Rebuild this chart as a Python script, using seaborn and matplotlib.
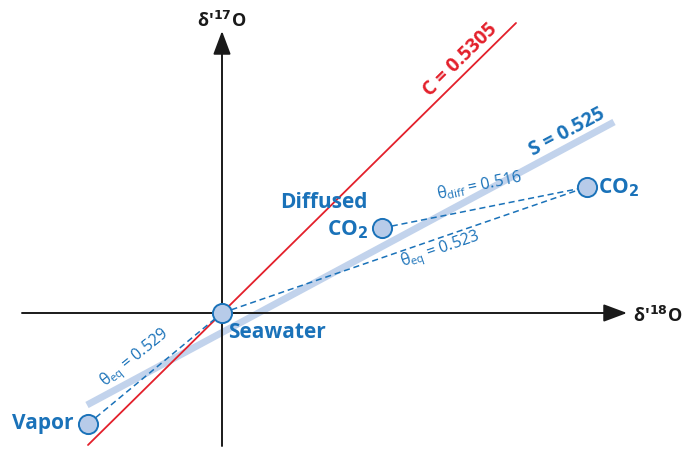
import matplotlib
matplotlib.use("Agg")
import matplotlib.pyplot as plt
import seaborn as sns
import pandas as pd

# ---- data (schematic units, origin = seawater) ----
point_names = ["Seawater", "Vapor", "Diffused CO2", "CO2"]
point_x = [0, -134, 160, 365]
point_y = [0, -111, 85, 126]

c_line_x = [-134, 294]
c_line_y = [-132, 290]
s_line_x = [-135, 392]
s_line_y = [-92, 191]

eq_vapor_x = [-134, 0]
eq_vapor_y = [-111, 0]
eq_co2_x = [0, 365]
eq_co2_y = [0, 126]
diff_x = [160, 365]
diff_y = [85, 126]

BLUE = "#1a72b9"
LIGHT = "#c2d3ec"
FILL = "#b7cbe9"
RED = "#e3202b"

sns.set_theme(style="white")
plt.rcParams['font.family'] = ['Open Sans', 'DejaVu Sans']

fig = plt.figure(figsize=(6.83, 4.5), dpi=100)
ax = fig.add_axes([0, 0, 1, 1])
ax.set_xlim(-222, 461)
ax.set_ylim(-137, 313)
ax.axis("off")

# axes arrows
ax.annotate("", xy=(405, 0), xytext=(-200, 0),
            arrowprops=dict(arrowstyle="-|>,head_length=1.2,head_width=0.45", color="#1a1a1a", lw=1.4, shrinkA=0, shrinkB=0))
ax.annotate("", xy=(0, 282), xytext=(0, -133),
            arrowprops=dict(arrowstyle="-|>,head_length=1.2,head_width=0.45", color="#1a1a1a", lw=1.4, shrinkA=0, shrinkB=0))

# S line (thick light blue)
sns.lineplot(x=s_line_x, y=s_line_y, ax=ax, color=LIGHT, lw=5.0, solid_capstyle="butt", zorder=2)
# C line (red)
sns.lineplot(x=c_line_x, y=c_line_y, ax=ax, color=RED, lw=1.3, zorder=3)
# dashed lines
for xs, ys in [(eq_vapor_x, eq_vapor_y), (eq_co2_x, eq_co2_y), (diff_x, diff_y)]:
    sns.lineplot(x=xs, y=ys, ax=ax, color=BLUE, lw=1.1, linestyle=(0, (4, 2.5)), zorder=3)

# points
df = pd.DataFrame({"name": point_names, "x": point_x, "y": point_y})
sns.scatterplot(data=df, x="x", y="y", ax=ax, s=190, color=FILL, edgecolor=BLUE, linewidth=1.4, zorder=5, legend=False)

ax.set_xlim(-222, 461)
ax.set_ylim(-137, 313)

# axis labels
ax.text(0, 292, "δ′$^{\\mathbf{17}}$O", fontsize=13, fontweight="bold", color="#1a1a1a", ha="center", va="center")
ax.text(411, -3, "δ′$^{\\mathbf{18}}$O", fontsize=13, fontweight="bold", color="#1a1a1a", ha="left", va="center")

# line labels
ax.text(238, 253, "C = 0.5305", fontsize=14, fontweight="bold", color=RED, rotation=44.6,
        ha="center", va="center", rotation_mode="anchor")
ax.text(345, 181, "S = 0.525", fontsize=14, fontweight="bold", color=BLUE, rotation=28,
        ha="center", va="center", rotation_mode="anchor")

# point labels
ax.text(6, -19, "Seawater", fontsize=15, fontweight="bold", color=BLUE, ha="left", va="center")
ax.text(-149, -111, "Vapor", fontsize=15, fontweight="bold", color=BLUE, ha="right", va="center")
ax.text(146, 110, "Diffused", fontsize=15, fontweight="bold", color=BLUE, ha="right", va="center")
ax.text(146, 83, "CO$_\\mathbf{2}$", fontsize=15, fontweight="bold", color=BLUE, ha="right", va="center")
ax.text(376, 125, "CO$_\\mathbf{2}$", fontsize=15, fontweight="bold", color=BLUE, ha="left", va="center")

# theta labels
ax.text(257, 128, "θ$_{\\mathregular{diff}}$ = 0.516", fontsize=11.5, color=BLUE, rotation=12,
        ha="center", va="center", rotation_mode="anchor")
ax.text(218, 63, "θ$_{\\mathregular{eq}}$ = 0.523", fontsize=11.5, color=BLUE, rotation=19,
        ha="center", va="center", rotation_mode="anchor")
ax.text(-87, -45, "θ$_{\\mathregular{eq}}$ = 0.529", fontsize=11.5, color=BLUE, rotation=39,
        ha="center", va="center", rotation_mode="anchor")

fig.savefig("out.png", dpi=100)
